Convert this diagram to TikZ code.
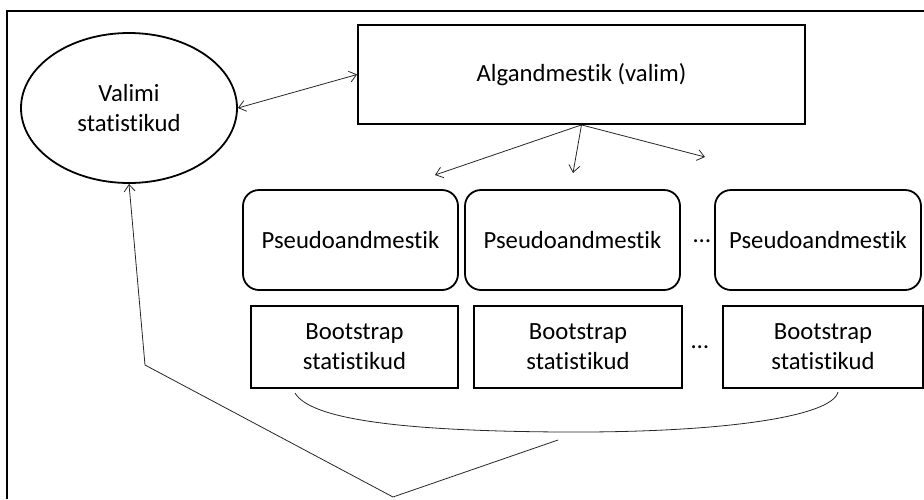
\documentclass[tikz,border=0pt]{standalone}
\usepackage{fontspec}
\setmainfont[Ligatures={NoCommon}]{Carlito}
\usetikzlibrary{shapes.geometric, arrows.meta}
\tikzset{
    x=1pt, y=-1pt, % one unit is one pixel of the picture, y grows downward
    >={Straight Barb[length=7pt, width=11pt]}, % open arrow heads
    every node/.style={font=\fontsize{24.7}{30}\selectfont, align=center, inner sep=0pt},
    }

\begin{document}
\begin{tikzpicture}[statnode/.style={ellipse, draw, line width=1.8pt, minimum width=216, minimum height=150},
    databox/.style={rectangle, draw, line width=1.8pt, minimum height=99},
    pseudobox/.style={rectangle, draw, rounded corners=16pt, line width=1.8pt, minimum height=100},
    bootbox/.style={rectangle, draw, line width=1.8pt, minimum height=82},
    link/.style={line width=0.8pt, draw=black!85}]
\useasboundingbox (0,0) rectangle (924,499);
\draw[line width=1.8pt] (7,499) -- (7,11) -- (924,11); % frame

\node[statnode] (valimi) at (129,108) {Valimi\\statistikud};
\node[databox, minimum width=447] (alg) at (581.5,74.5) {Algandmestik (valim)};

\node[pseudobox, minimum width=215] (p1) at (350.5,240) {Pseudoandmestik};
\node[pseudobox, minimum width=215] (p2) at (572.5,240) {Pseudoandmestik};
\node[pseudobox, minimum width=206] (p3) at (818,240) {Pseudoandmestik};
\node (pdots) at (702,241) {…};

\node[bootbox, minimum width=207] (b1) at (354.5,347) {Bootstrap\\statistikud};
\node[bootbox, minimum width=208] (b2) at (578,347) {Bootstrap\\statistikud};
\node[bootbox, minimum width=200] (b3) at (823,347) {Bootstrap\\statistikud};
\node (bdots) at (700,347) {…};

\coordinate (s1) at (435,175);
\coordinate (s2) at (573,173);
\coordinate (s3) at (705,157);
\coordinate (braceL) at (295,393);
\coordinate (braceM) at (560,432);
\coordinate (braceR) at (838,392);
\coordinate (tip) at (558,440);
\coordinate (low) at (393,497);
\coordinate (knee) at (145,365);

\draw[link, <->] (valimi.east) -- (alg.west);
\draw[link, ->] (alg.south) -- (s1);
\draw[link, ->] (alg.south) -- (s2);
\draw[link, ->] (alg.south) -- (s3);

\draw[link] (braceL) .. controls (312,422) and (420,431) .. (braceM)
    .. controls (720,433) and (832,417) .. (braceR);
\draw[link, ->] (tip) -- (low) -- (knee) -- (valimi.south);

\end{tikzpicture}
\end{document}
